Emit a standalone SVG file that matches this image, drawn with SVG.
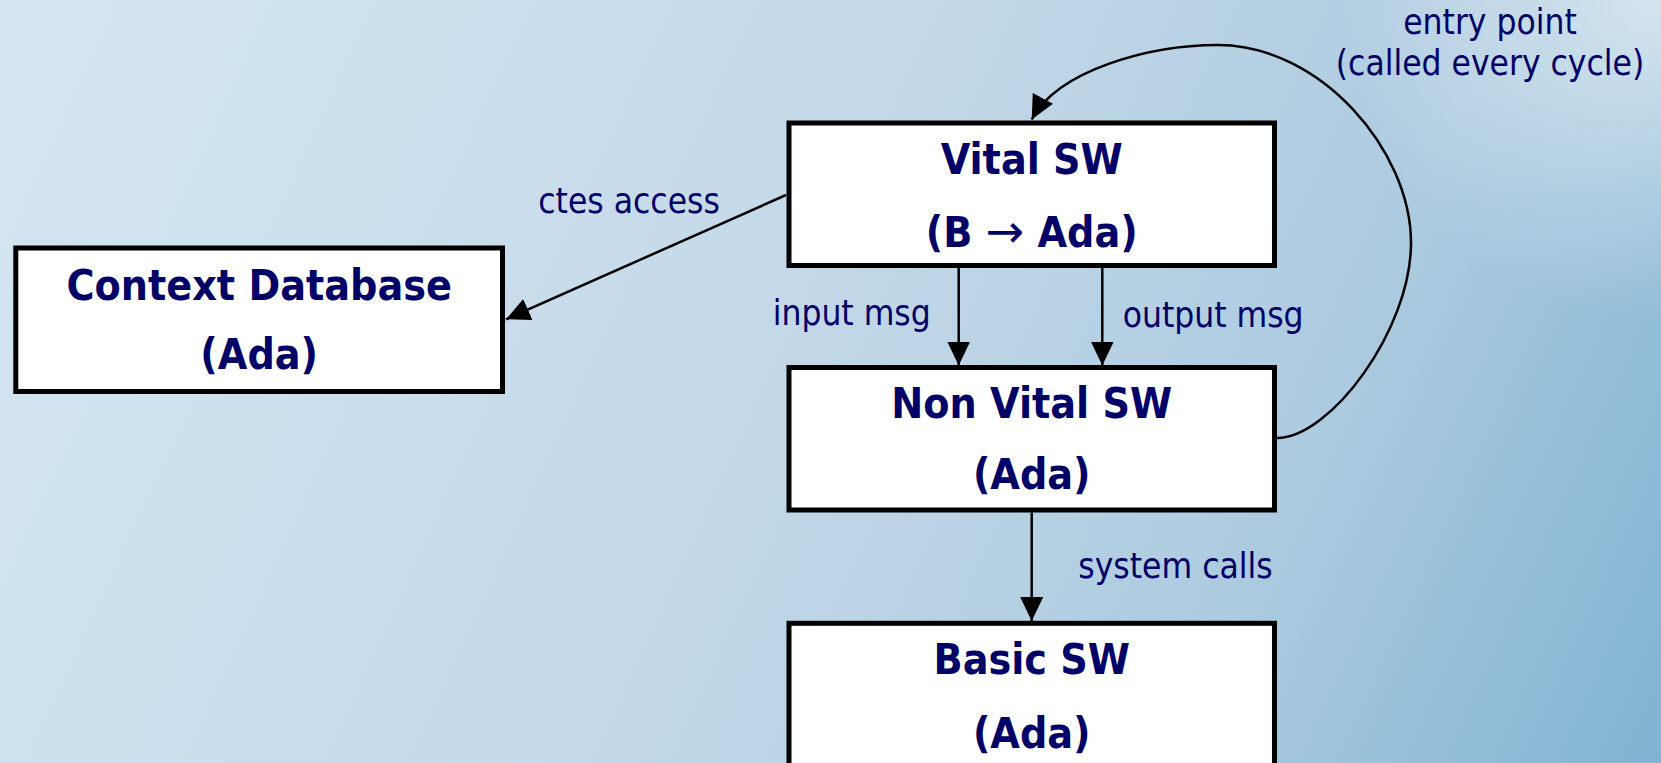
<svg xmlns="http://www.w3.org/2000/svg" width="1661" height="763" viewBox="0 0 1661 763">
  <style>
    .box { fill: #ffffff; stroke: #000000; stroke-width: 5; }
    .title { font-family: "DejaVu Sans Condensed", "DejaVu Sans", sans-serif; font-stretch: condensed; font-weight: bold; font-size: 42.5px; fill: #000066; text-anchor: middle; }
    .arrowglyph { font-family: "DejaVu Sans", sans-serif; font-stretch: normal; font-weight: normal; font-size: 46px; }
    .label { font-family: "DejaVu Sans Condensed", "DejaVu Sans", sans-serif; font-stretch: condensed; font-size: 35px; fill: #000066; }
    .wire { fill: none; stroke: #000000; stroke-width: 2.5; }
  </style>
  <defs>
    <linearGradient id="bg" gradientUnits="userSpaceOnUse" x1="0" y1="0" x2="1661" y2="763">
      <stop offset="0" stop-color="#d4e6f2"/>
      <stop offset="0.45" stop-color="#c4d9e9"/>
      <stop offset="0.75" stop-color="#adcbe0"/>
      <stop offset="1" stop-color="#80b3d2"/>
    </linearGradient>
    <radialGradient id="glow" gradientUnits="userSpaceOnUse" cx="1661" cy="0" r="320">
      <stop offset="0" stop-color="#ffffff" stop-opacity="0.55"/>
      <stop offset="1" stop-color="#ffffff" stop-opacity="0"/>
    </radialGradient>
    <marker id="head" viewBox="0 0 24 23" refX="24" refY="11.5" markerWidth="24" markerHeight="23" markerUnits="userSpaceOnUse" orient="auto">
      <path d="M0,0 L24,11.5 L0,23 z" fill="#000000"/>
    </marker>
  </defs>

  <!-- backdrop -->
  <rect x="0" y="0" width="1661" height="763" fill="url(#bg)"/>
  <rect x="0" y="0" width="1661" height="763" fill="url(#glow)"/>

  <!-- connectors -->
  <g id="connectors">
    <line class="wire" x1="786" y1="195" x2="506" y2="319.3" marker-end="url(#head)"/>
    <line class="wire" x1="958.7" y1="268" x2="958.7" y2="365.5" marker-end="url(#head)"/>
    <line class="wire" x1="1102.3" y1="268" x2="1102.3" y2="365.5" marker-end="url(#head)"/>
    <line class="wire" x1="1031.7" y1="512.5" x2="1031.7" y2="621" marker-end="url(#head)"/>
    <path class="wire" d="M1277,438 C1330,438 1411,330 1411,243 C1411,150 1320,45 1218,45 C1150,45 1058,70 1031.7,119.5" marker-end="url(#head)"/>
    <text class="label" x="538.3" y="213.3">ctes access</text>
    <text class="label" x="772.7" y="325">input msg</text>
    <text class="label" x="1122.7" y="327">output msg</text>
    <text class="label" x="1078.3" y="578.3">system calls</text>
    <text class="label" x="1490" y="34" text-anchor="middle">entry point</text>
    <text class="label" x="1490" y="75" text-anchor="middle">(called every cycle)</text>
  </g>

  <!-- nodes -->
  <g id="context-database">
    <rect class="box" x="15.8" y="248" width="486.7" height="143.5"/>
    <text class="title" x="259.2" y="300">Context Database</text>
    <text class="title" x="259.2" y="369">(Ada)</text>
  </g>

  <g id="vital-sw">
    <rect class="box" x="789" y="123" width="485.5" height="142.5"/>
    <text class="title" x="1031.75" y="174">Vital SW</text>
    <text class="title" x="1031.75" y="246.7">(B <tspan class="arrowglyph">→</tspan> Ada)</text>
  </g>

  <g id="non-vital-sw">
    <rect class="box" x="789" y="367.5" width="485.5" height="142.5"/>
    <text class="title" x="1031.75" y="418.3">Non Vital SW</text>
    <text class="title" x="1031.75" y="489">(Ada)</text>
  </g>

  <g id="basic-sw">
    <rect class="box" x="789" y="623.3" width="485.5" height="200"/>
    <text class="title" x="1031.75" y="674">Basic SW</text>
    <text class="title" x="1031.75" y="748">(Ada)</text>
  </g>
</svg>
